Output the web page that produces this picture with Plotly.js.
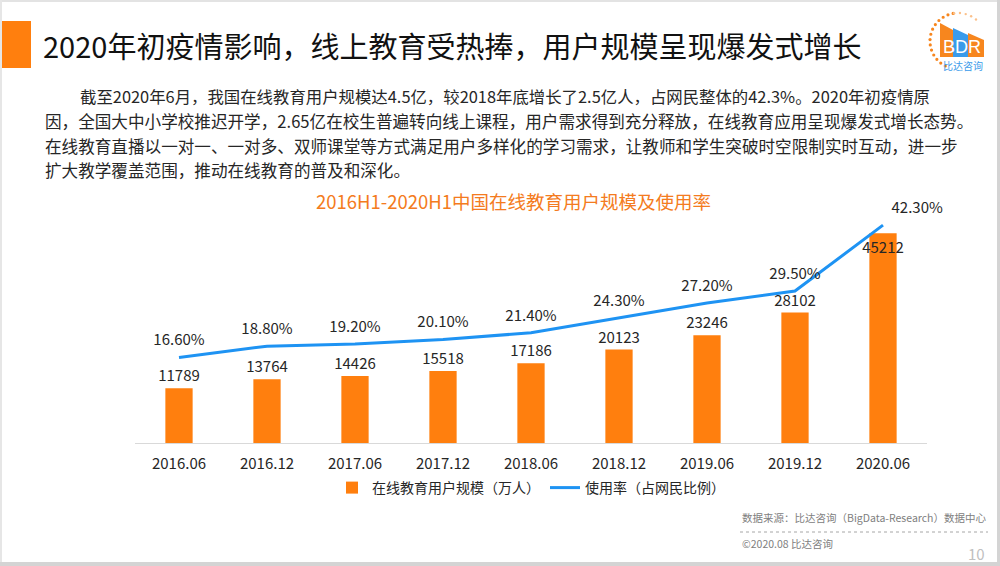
<!DOCTYPE html>
<html>
<head>
<meta charset="utf-8">
<script src="https://cdn.plot.ly/plotly-3.0.1.min.js"></script>
<style>html,body{margin:0;padding:0;background:#fff;}#chart{width:1000px;height:566px;}</style>
</head>
<body>
<div id="chart"></div>
<script>
// ---- data ----
const categories = ['2016.06','2016.12','2017.06','2017.12','2018.06','2018.12','2019.06','2019.12','2020.06'];
const users = [11789,13764,14426,15518,17186,20123,23246,28102,45212];
const rate = [16.6,18.8,19.2,20.1,21.4,24.3,27.2,29.5,42.3];
const seriesNames = ['在线教育用户规模（万人）','使用率（占网民比例）'];
const slideTitle = '2020年初疫情影响，线上教育受热捧，用户规模呈现爆发式增长';
const chartTitle = '2016H1-2020H1中国在线教育用户规模及使用率';
const paragraph = [
  '截至2020年6月，我国在线教育用户规模达4.5亿，较2018年底增长了2.5亿人，占网民整体的42.3%。2020年初疫情原',
  '因，全国大中小学校推迟开学，2.65亿在校生普遍转向线上课程，用户需求得到充分释放，在线教育应用呈现爆发式增长态势。',
  '在线教育直播以一对一、一对多、双师课堂等方式满足用户多样化的学习需求，让教师和学生突破时空限制实时互动，进一步',
  '扩大教学覆盖范围，推动在线教育的普及和深化。'
];
const sourceText = '数据来源：比达咨询（BigData-Research）数据中心';
const copyText = '©2020.08 比达咨询';
const pageNo = '10';

// ---- layout helpers (pixel -> paper) ----
const L = 135, R = 927, T = 222, B = 443;
const px = x => (x - L) / (R - L);
const py = y => (B - y) / (B - T);

const FONT = '"Noto Sans CJK SC", "Noto Sans", sans-serif';
const ORANGE = '#FF7F0E';
const BLUE = '#1E93F3';
const TXT = '#262626';

const n = categories.length;
const traces = [
  {
    type: 'bar', x: categories, y: users, name: seriesNames[0],
    marker: {color: ORANGE}, width: 0.31, hoverinfo: 'skip',
    text: users.map(String),
    textposition: users.map((v, i) => i === n - 1 ? 'inside' : 'outside'),
    insidetextanchor: 'end', textangle: 0, cliponaxis: false, constraintext: 'none',
    textfont: {family: FONT, size: 15, color: TXT},
    insidetextfont: {family: FONT, size: 15, color: TXT},
    outsidetextfont: {family: FONT, size: 15, color: TXT}
  },
  {
    type: 'scatter', mode: 'lines+markers+text', x: categories, y: rate, yaxis: 'y2',
    name: seriesNames[1], line: {color: BLUE, width: 3},
    marker: {size: 12, color: 'rgba(0,0,0,0)'}, hoverinfo: 'skip', cliponaxis: false,
    text: rate.map(v => v.toFixed(2) + '%'),
    textposition: rate.map((v, i) => i === n - 1 ? 'top right' : 'top center'),
    textfont: {family: FONT, size: 15, color: TXT}
  }
];

const annotations = [];
// slide title
annotations.push({xref: 'paper', yref: 'paper', x: px(41), y: py(45), xanchor: 'left', yanchor: 'middle',
  text: slideTitle, showarrow: false, font: {family: FONT, size: 29, color: '#111'}});
// paragraph
const paraY = [96, 121, 146, 170];
paragraph.forEach((t, i) => {
  annotations.push({xref: 'paper', yref: 'paper', x: px(i === 0 ? 78 : 43), y: py(paraY[i]),
    xanchor: 'left', yanchor: 'middle', text: t, showarrow: false,
    font: {family: FONT, size: i === 0 ? 16.4 : 16.6, color: TXT}});
});
// chart title
annotations.push({xref: 'paper', yref: 'paper', x: px(513), y: py(201), xanchor: 'center', yanchor: 'middle',
  text: chartTitle, showarrow: false, font: {family: FONT, size: 18.5, color: '#F47B20'}});
// footer
annotations.push({xref: 'paper', yref: 'paper', x: px(740), y: py(517), xanchor: 'left', yanchor: 'middle',
  text: sourceText, showarrow: false, font: {family: FONT, size: 10.5, color: '#808080'}});
annotations.push({xref: 'paper', yref: 'paper', x: px(740), y: py(543), xanchor: 'left', yanchor: 'middle',
  text: copyText, showarrow: false, font: {family: FONT, size: 10.5, color: '#808080'}});
annotations.push({xref: 'paper', yref: 'paper', x: px(987), y: py(553), xanchor: 'right', yanchor: 'middle',
  text: pageNo, showarrow: false, font: {family: FONT, size: 15, color: '#C0C0C0'}});
// logo texts
annotations.push({xref: 'paper', yref: 'paper', x: px(962), y: py(47), xanchor: 'center', yanchor: 'middle',
  text: 'BDR', showarrow: false, font: {family: '"Liberation Sans", Arial, sans-serif', size: 18, color: '#fff'}});
annotations.push({xref: 'paper', yref: 'paper', x: px(963), y: py(65), xanchor: 'center', yanchor: 'middle',
  text: '比达咨询', showarrow: false, font: {family: FONT, size: 10, color: '#3A9BEA'}});

// ---- decorative shapes ----
const shapes = [];
const rect = (x0, y0, x1, y1, color) => shapes.push({type: 'rect', xref: 'paper', yref: 'paper',
  x0: px(x0), x1: px(x1), y0: py(y1), y1: py(y0), fillcolor: color, line: {width: 0}, layer: 'below'});
// slide frame
rect(0, 0, 1000, 2, '#E3E3E3');
rect(0, 0, 2, 566, '#E6E6E6');
rect(997, 0, 1000, 566, '#D4D4D4');
rect(0, 562, 1000, 566, '#D4D4D4');
// orange title marker
rect(2, 21, 31, 68, '#FF7F0E');
// footer dotted line
shapes.push({type: 'line', xref: 'paper', yref: 'paper', x0: px(740), x1: px(988), y0: py(532), y1: py(532),
  line: {color: '#A6A6A6', width: 1, dash: 'dot'}});
// logo buildings
const poly = (pts, color) => {
  const d = pts.map((p, k) => (k ? 'L' : 'M') + px(p[0]) + ',' + py(p[1])).join(' ') + ' Z';
  shapes.push({type: 'path', xref: 'paper', yref: 'paper', path: d, fillcolor: color, line: {width: 0}});
};
poly([[940, 23], [953, 30], [953, 57], [940, 57]], '#F7861E');
poly([[953, 28], [968, 35], [968, 57], [953, 57]], '#3A9BEA');
poly([[968, 33], [984, 40], [984, 57], [968, 57]], '#F7861E');
// logo dotted arc
const cx = 958, cy = 41, r = 28;
for (let a = 100; a <= 250; a += 11) {
  const rad = a * Math.PI / 180;
  const x = cx + r * Math.cos(rad), y = cy - r * Math.sin(rad);
  shapes.push({type: 'circle', xref: 'paper', yref: 'paper', x0: px(x - 1.6), x1: px(x + 1.6),
    y0: py(y + 1.6), y1: py(y - 1.6), fillcolor: '#F7861E', line: {width: 0}});
}
for (let a = 50; a < 100; a += 12) {
  const rad = a * Math.PI / 180;
  const x = cx + r * Math.cos(rad), y = cy - r * Math.sin(rad);
  shapes.push({type: 'circle', xref: 'paper', yref: 'paper', x0: px(x - 1.2), x1: px(x + 1.2),
    y0: py(y + 1.2), y1: py(y - 1.2), fillcolor: '#FBC08A', line: {width: 0}});
}

const layout = {
  width: 1000, height: 566,
  margin: {l: L, r: 1000 - R, t: T, b: 566 - B, pad: 0},
  paper_bgcolor: '#fff', plot_bgcolor: '#fff',
  font: {family: FONT, color: TXT},
  showlegend: true,
  legend: {orientation: 'h', x: px(531), xanchor: 'center', y: py(488), yanchor: 'middle',
    font: {family: FONT, size: 14, color: TXT}, traceorder: 'normal', itemwidth: 30},
  xaxis: {type: 'category', range: [-0.5, 8.5], showline: true, linecolor: '#D9D9D9', linewidth: 1,
    showgrid: false, zeroline: false, ticks: 'outside', ticklen: 7, tickcolor: 'rgba(0,0,0,0)',
    tickfont: {family: FONT, size: 15, color: TXT}, fixedrange: true},
  yaxis: {range: [0, 47626], visible: false, fixedrange: true},
  yaxis2: {range: [0, 42.91], overlaying: 'y', visible: false, fixedrange: true},
  annotations: annotations,
  shapes: shapes
};

Plotly.newPlot('chart', traces, layout, {staticPlot: true, displayModeBar: false});
</script>
</body>
</html>
